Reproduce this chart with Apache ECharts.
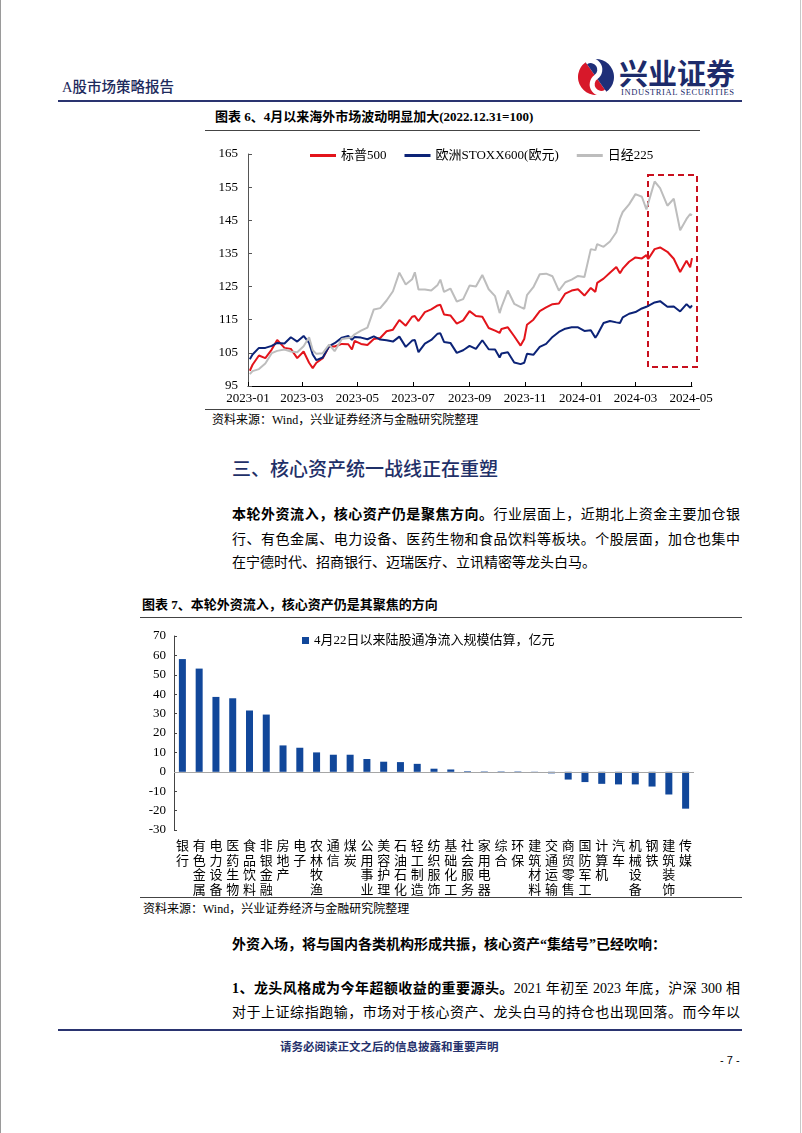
<!DOCTYPE html>
<html><head><meta charset="utf-8">
<script src="https://cdn.jsdelivr.net/npm/echarts@6/dist/echarts.min.js"></script>
<style>
html,body{margin:0;padding:0;background:#fff;}
body{width:802px;height:1133px;position:relative;overflow:hidden;font-family:"Liberation Serif","Noto Sans CJK SC",serif;color:#000;}
.abs{position:absolute;white-space:nowrap;}
.line{position:absolute;}
.jl{position:absolute;left:232px;width:508px;font-size:14px;height:24px;line-height:24px;text-align:justify;text-align-last:justify;}
.nl{position:absolute;left:232px;font-size:14px;height:24px;line-height:24px;white-space:nowrap;}
</style></head>
<body>
<div class="line" style="left:0;top:0;width:1px;height:1133px;background:#9a9a9a"></div>
<div class="line" style="left:800px;top:0;width:1px;height:1133px;background:#c8c8c8"></div>

<div class="abs" style="left:62px;top:77px;font-size:14.5px;line-height:20px;font-weight:500;color:#1d2a5c;">A股市场策略报告</div>
<svg class="abs" style="left:576px;top:56px" width="40" height="42" viewBox="0 0 40 42">
 <g transform="rotate(-35 20 21)">
 <path d="M20 3 A18 18 0 0 0 20 39 Z" fill="#d7182a"/>
 <path d="M20 3 A18 18 0 0 1 20 39 Z" fill="#1f2f78"/>
 <path d="M20 3 A9 9 0 0 1 20 21 A9 9 0 0 0 20 39" stroke="#fff" stroke-width="5" fill="none"/>
 </g>
</svg>
<div class="abs" style="left:619px;top:55px;font-size:29px;line-height:34px;font-weight:bold;color:#1d2b6b;font-family:'Noto Sans CJK SC';">兴业证券</div>
<div class="abs" style="left:621px;top:86px;font-size:8.5px;line-height:12px;color:#1d2b6b;letter-spacing:0.6px;font-family:'Liberation Serif';">INDUSTRIAL SECURITIES</div>
<div class="line" style="left:58px;top:100px;width:684px;height:2px;background:#2a3470"></div>

<div class="abs" style="left:215px;top:108px;font-size:13px;line-height:18px;font-weight:bold;">图表 6、4月以来海外市场波动明显加大(2022.12.31=100)</div>
<div class="line" style="left:205px;top:130px;width:495px;height:1px;background:#444"></div>
<div id="c1" style="position:absolute;left:200px;top:131px;width:520px;height:277px;"></div>
<div class="line" style="left:205px;top:409px;width:495px;height:1px;background:#444"></div>
<div class="abs" style="left:212px;top:412px;font-size:12px;line-height:16px;">资料来源：Wind，兴业证券经济与金融研究院整理</div>

<div class="abs" style="left:232px;top:458px;font-size:19px;line-height:24px;color:#1f3068;font-weight:500;">三、核心资产统一战线正在重塑</div>

<div class="jl" style="top:503px;"><b>本轮外资流入，核心资产仍是聚焦方向。</b>行业层面上，近期北上资金主要加仓银</div>
<div class="jl" style="top:528px;">行、有色金属、电力设备、医药生物和食品饮料等板块。个股层面，加仓也集中</div>
<div class="nl" style="top:551px;">在宁德时代、招商银行、迈瑞医疗、立讯精密等龙头白马。</div>

<div class="abs" style="left:142px;top:596px;font-size:13px;line-height:18px;font-weight:bold;">图表 7、本轮外资流入，核心资产仍是其聚焦的方向</div>
<div class="line" style="left:140px;top:617px;width:602px;height:1px;background:#444"></div>
<div id="c2" style="position:absolute;left:140px;top:618px;width:602px;height:278px;"></div>
<div class="line" style="left:140px;top:897px;width:602px;height:1px;background:#444"></div>
<div class="abs" style="left:143px;top:901px;font-size:12px;line-height:16px;">资料来源：Wind，兴业证券经济与金融研究院整理</div>

<div class="nl" style="top:933px;font-weight:bold;">外资入场，将与国内各类机构形成共振，核心资产“集结号”已经吹响：</div>
<div class="jl" style="top:977px;"><b>1、龙头风格成为今年超额收益的重要源头。</b>2021 年初至 2023 年底，沪深 300 相</div>
<div class="jl" style="top:1001px;">对于上证综指跑输，市场对于核心资产、龙头白马的持仓也出现回落。而今年以</div>

<div class="line" style="left:58px;top:1029px;width:684px;height:2px;background:#2a3470"></div>
<div class="abs" style="left:280px;top:1038px;font-size:11.5px;line-height:16px;font-weight:bold;color:#24306b;font-family:'Noto Sans CJK SC';">请务必阅读正文之后的信息披露和重要声明</div>
<div class="abs" style="left:720px;top:1053px;font-size:11px;line-height:14px;font-family:'Liberation Sans';">- 7 -</div>

<script>
// ---------- Chart 6 data ----------
var tickLabels = ['2023-01','2023-03','2023-05','2023-07','2023-09','2023-11','2024-01','2024-03','2024-05'];
var seriesNames = ['标普500','欧洲STOXX600(欧元)','日经225'];
var dates = ['2023-01-03','2023-01-06','2023-01-13','2023-01-20','2023-01-27','2023-02-02','2023-02-10','2023-02-17','2023-02-24','2023-03-03','2023-03-09','2023-03-13','2023-03-17','2023-03-24','2023-03-31','2023-04-06','2023-04-14','2023-04-21','2023-04-25','2023-04-28','2023-05-05','2023-05-12','2023-05-19','2023-05-26','2023-06-02','2023-06-09','2023-06-16','2023-06-23','2023-06-30','2023-07-03','2023-07-07','2023-07-14','2023-07-21','2023-07-28','2023-07-31','2023-08-04','2023-08-11','2023-08-18','2023-08-25','2023-09-01','2023-09-08','2023-09-15','2023-09-22','2023-09-29','2023-10-04','2023-10-06','2023-10-13','2023-10-20','2023-10-27','2023-10-31','2023-11-03','2023-11-10','2023-11-17','2023-11-24','2023-12-01','2023-12-08','2023-12-15','2023-12-22','2023-12-29','2024-01-05','2024-01-12','2024-01-17','2024-01-19','2024-01-26','2024-02-02','2024-02-09','2024-02-13','2024-02-16','2024-02-23','2024-03-01','2024-03-08','2024-03-13','2024-03-15','2024-03-22','2024-03-28','2024-04-05','2024-04-12','2024-04-19','2024-04-26','2024-04-30','2024-05-02'];
var spx   = [99.6,101.4,104.2,103.4,106.0,108.9,106.5,106.2,103.4,105.4,102.0,100.4,102.0,103.4,107.0,106.9,107.7,107.6,106.0,108.6,107.7,107.4,109.2,109.5,111.5,112.0,114.9,113.2,115.9,116.1,114.6,117.3,118.1,119.3,119.5,116.6,116.3,113.8,114.8,117.6,116.1,115.9,112.5,111.7,111.0,112.2,112.7,110.0,107.2,109.2,113.5,115.0,117.6,118.7,119.7,119.9,122.9,123.8,124.2,122.3,124.6,123.4,126.1,127.4,129.2,130.9,129.0,130.4,132.5,133.8,133.5,134.5,133.3,136.3,136.8,135.5,133.4,129.4,132.8,130.8,133.6];
var stoxx = [103.1,104.5,106.5,106.5,107.1,108.0,107.8,109.7,108.4,110.1,108.0,104.5,102.8,103.6,107.0,107.9,109.6,110.1,108.9,109.8,109.6,109.1,110.0,109.0,108.8,108.4,109.9,106.8,108.7,108.9,105.2,107.8,108.9,110.8,110.9,108.3,108.0,105.0,105.8,107.1,106.2,108.8,106.1,106.0,103.6,104.8,105.2,102.1,101.6,102.0,104.7,104.4,106.8,107.7,109.8,111.3,112.3,112.7,112.7,111.6,111.8,109.6,110.4,114.0,114.6,114.2,114.0,115.7,116.8,117.3,118.4,118.9,118.9,120.2,120.6,118.9,119.0,117.5,119.7,118.6,119.3];
var nikkei= [98.6,99.5,100.1,101.8,104.9,105.6,106.0,105.4,105.2,107.0,109.7,105.8,104.7,104.9,107.5,105.5,109.2,109.5,109.8,110.6,111.7,112.6,118.1,118.5,120.8,123.6,129.2,125.6,127.2,129.3,124.1,124.1,123.8,125.5,127.1,123.4,124.4,120.5,121.2,125.3,125.0,128.5,124.2,122.1,117.0,118.8,123.8,119.8,118.8,118.3,122.4,124.8,128.7,128.9,128.1,123.8,126.3,127.1,128.2,127.9,136.3,136.0,137.8,137.0,138.6,141.4,145.5,147.5,149.8,152.9,152.1,148.3,148.3,156.7,154.7,149.4,151.5,142.0,145.4,146.9,146.5];

// ---------- Chart 7 data ----------
var industries = ['银行','有色金属','电力设备','医药生物','食品饮料','非银金融','房地产','电子','农林牧渔','通信','煤炭','公用事业','美容护理','石油石化','轻工制造','纺织服饰','基础化工','社会服务','家用电器','综合','环保','建筑材料','交通运输','商贸零售','国防军工','计算机','汽车','机械设备','钢铁','建筑装饰','传媒'];
var flows = [58.1,53.2,38.6,37.9,31.6,29.5,13.6,12.4,10.0,8.8,8.8,6.6,5.2,5.0,4.1,1.6,1.2,0.3,0.2,0.2,0.2,0.1,-0.8,-4.0,-5.3,-6.2,-6.5,-6.5,-7.6,-11.7,-19.0];
var flowName = '4月22日以来陆股通净流入规模估算，亿元';

// calendar day categories for the time axis
var days = [];
(function(){
  var t = Date.UTC(2023,0,1), end = Date.UTC(2024,4,2);
  while (t <= end) { days.push(new Date(t).toISOString().slice(0,10)); t += 86400000; }
})();
var tickSet = {};
tickLabels.forEach(function(m){ tickSet[m + '-01'] = true; });
function isTick(i, v){ return !!tickSet[v]; }

var FONT = '"Liberation Serif","Noto Sans CJK SC",serif';
var c1 = echarts.init(document.getElementById('c1'));
function mk(vals){ return dates.map(function(d,i){ return [d, vals[i]]; }); }
c1.setOption({
  animation:false,
  textStyle:{fontFamily:FONT},
  legend:{top:13,left:105,icon:'rect',itemWidth:26,itemHeight:3,itemGap:18,
    textStyle:{fontSize:13,color:'#000',fontFamily:FONT},data:seriesNames},
  grid:{left:48,top:23,width:444,height:232},
  xAxis:{type:'category',data:days,boundaryGap:false,
    axisLine:{lineStyle:{color:'#000',width:1}},
    axisTick:{inside:true,length:4,interval:isTick,lineStyle:{color:'#000'}},
    axisLabel:{interval:isTick,formatter:function(v){return v.slice(0,7);},fontSize:13,color:'#000',margin:6,fontFamily:FONT}},
  yAxis:{type:'value',min:95,max:165,interval:10,
    axisLine:{show:true,lineStyle:{color:'#555'}},
    axisTick:{show:true,inside:true,length:4,lineStyle:{color:'#555'}},
    splitLine:{show:false},
    axisLabel:{fontSize:13,color:'#000',margin:10,fontFamily:FONT}},
  series:[
    {name:seriesNames[0],type:'line',data:mk(spx),showSymbol:false,symbol:'none',lineStyle:{width:2,color:'#e3141b'},itemStyle:{color:'#e3141b'}},
    {name:seriesNames[1],type:'line',data:mk(stoxx),showSymbol:false,symbol:'none',lineStyle:{width:2,color:'#0c2377'},itemStyle:{color:'#0c2377'}},
    {name:seriesNames[2],type:'line',data:mk(nikkei),showSymbol:false,symbol:'none',lineStyle:{width:2,color:'#bdbdbd'},itemStyle:{color:'#bdbdbd'}}
  ],
  graphic:[{type:'rect',shape:{x:448,y:44,width:49,height:192},
    style:{fill:'none',stroke:'#c8101e',lineWidth:2,lineDash:[6,4]},silent:true}]
});

var c2 = echarts.init(document.getElementById('c2'));
c2.setOption({
  animation:false,
  textStyle:{fontFamily:FONT},
  legend:{top:11,left:157,icon:'rect',itemWidth:7,itemHeight:7,itemGap:4,
    textStyle:{fontSize:13,color:'#000',fontFamily:FONT},data:[flowName]},
  grid:{left:34,top:18,width:520,height:195},
  xAxis:{type:'category',data:industries,
    axisLine:{show:false,onZero:false},axisTick:{show:false},
    axisLabel:{interval:0,formatter:function(s){return s.split('').join('\n');},
      fontSize:13,lineHeight:14.5,color:'#000',margin:8,verticalAlign:'top',fontFamily:'"Noto Sans CJK SC"'}},
  yAxis:{type:'value',min:-30,max:70,interval:10,
    axisLine:{show:true,lineStyle:{color:'#444'}},
    axisTick:{show:true,inside:true,length:3,lineStyle:{color:'#444'}},
    splitLine:{show:false},
    axisLabel:{fontSize:13,color:'#000',margin:8,fontFamily:FONT}},
  series:[{name:flowName,type:'bar',data:flows,barWidth:7,
    itemStyle:{color:'#11479a'},
    markLine:{silent:true,symbol:'none',label:{show:false},
      lineStyle:{color:'#a6a6a6',type:'solid',width:1},data:[{yAxis:0}]}}]
});
</script>
</body></html>
